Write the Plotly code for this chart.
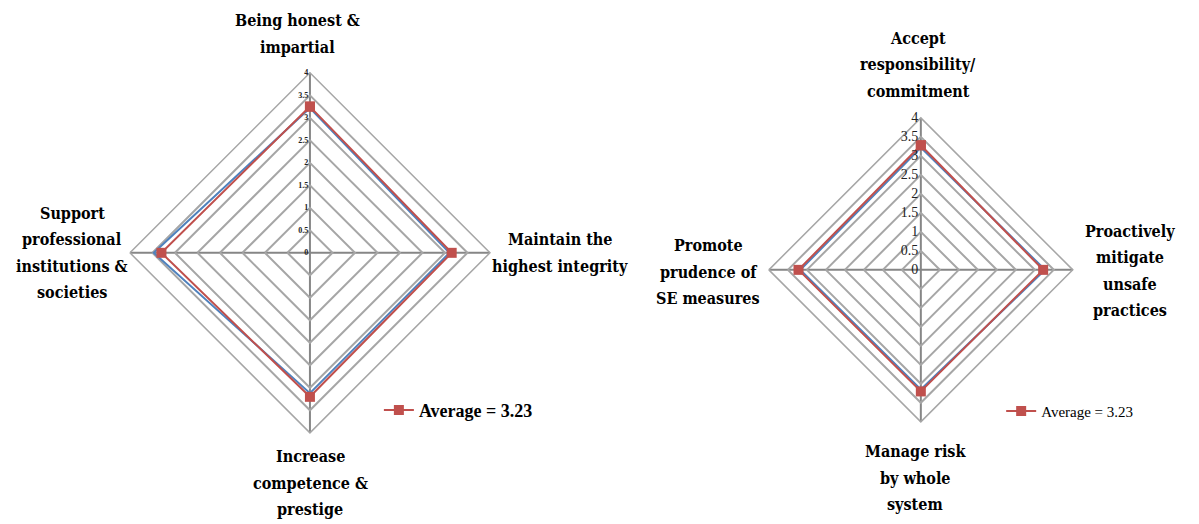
import plotly.graph_objects as go

# Left radar: ethical behaviour dimensions
left_categories = ["Being honest &<br>impartial", "Maintain the<br>highest integrity",
                   "Increase<br>competence &<br>prestige",
                   "Support<br>professional<br>institutions &<br>societies"]
left_average = [3.25, 3.15, 3.20, 3.30]
left_other = [3.22, 3.10, 3.12, 3.47]

# Right radar: safety engineering dimensions
right_categories = ["Accept<br>responsibility/<br>commitment", "Proactively<br>mitigate<br>unsafe<br>practices",
                    "Manage risk<br>by whole<br>system", "Promote<br>prudence of<br>SE measures"]
right_average = [3.28, 3.22, 3.20, 3.22]
right_other = [3.22, 3.27, 3.15, 3.17]

legend_label = "Average = 3.23"
radial_ticks = [0, 0.5, 1, 1.5, 2, 2.5, 3, 3.5, 4]

RED = "#C0504D"
BLUE = "#4F81BD"
GRID = "#A6A6A6"
AXIS = "#868686"
FONT = "Liberation Serif"
LABEL_FONT = "DejaVu Serif Condensed"


def closed(seq):
    return list(seq) + [seq[0]]


fig = go.Figure()

# Blue series first so the red average line sits on top
fig.add_trace(go.Scatterpolar(r=closed(left_other), theta=closed(left_categories), mode="lines",
                              line=dict(color=BLUE, width=2), subplot="polar", showlegend=False))
fig.add_trace(go.Scatterpolar(r=closed(left_average), theta=closed(left_categories), mode="lines+markers",
                              line=dict(color=RED, width=2), marker=dict(symbol="square", size=10, color=RED),
                              subplot="polar", name=f"<b>{legend_label}</b>", legend="legend"))
fig.add_trace(go.Scatterpolar(r=closed(right_other), theta=closed(right_categories), mode="lines",
                              line=dict(color=BLUE, width=2), subplot="polar2", showlegend=False))
fig.add_trace(go.Scatterpolar(r=closed(right_average), theta=closed(right_categories), mode="lines+markers",
                              line=dict(color=RED, width=2), marker=dict(symbol="square", size=10, color=RED),
                              subplot="polar2", name=legend_label, legend="legend2"))


def polar_layout(domain_x, domain_y, tick_size, tick_bold):
    return dict(
        domain=dict(x=domain_x, y=domain_y),
        gridshape="linear",
        bgcolor="white",
        radialaxis=dict(range=[0, 4], tickvals=radial_ticks,
                        ticktext=[(f"<b>{t:g}</b>" if tick_bold else f"{t:g}") for t in radial_ticks],
                        angle=90, tickangle=90, side="counterclockwise",
                        showline=False, gridcolor=GRID, gridwidth=1.5, ticks="",
                        tickfont=dict(family=FONT, size=tick_size, color="#222")),
        angularaxis=dict(direction="clockwise", rotation=90, showticklabels=False, ticks="",
                         linecolor=GRID, linewidth=1.5, gridcolor=AXIS, gridwidth=1.5, showline=True),
    )


fig.update_layout(
    width=1199, height=524,
    margin=dict(l=0, r=0, t=0, b=0),
    paper_bgcolor="white",
    plot_bgcolor="white",
    font=dict(family=FONT, color="black"),
    polar=polar_layout([0.108, 0.409], [0.174, 0.861], 8, True),
    polar2=polar_layout([0.641, 0.895], [0.195, 0.775], 14, False),
    legend=dict(x=0.316, y=0.217, xanchor="left", yanchor="middle", bgcolor="rgba(0,0,0,0)",
                font=dict(family=FONT, size=18, color="black"), itemwidth=30),
    legend2=dict(x=0.835, y=0.215, xanchor="left", yanchor="middle", bgcolor="rgba(0,0,0,0)",
                 font=dict(family=FONT, size=15, color="black"), itemwidth=30),
)

# Axis category labels, one bold line per annotation row
label_positions = [
    (left_categories[0], 297, 34),
    (left_categories[1], 560, 253),
    (left_categories[2], 310, 483),
    (left_categories[3], 72, 253),
    (right_categories[0], 918, 65),
    (right_categories[1], 1130, 271),
    (right_categories[2], 915, 478),
    (right_categories[3], 708, 272),
]
row_gap = 26.5
for text, px, py in label_positions:
    lines = text.split("<br>")
    for i, line in enumerate(lines):
        ly = py + (i - (len(lines) - 1) / 2) * row_gap
        fig.add_annotation(text=f"<b>{line}</b>", x=px / 1199, y=1 - ly / 524, xref="paper", yref="paper",
                           showarrow=False, xanchor="center", yanchor="middle",
                           font=dict(family=LABEL_FONT, size=16, color="black"))

fig.write_html("out.html")
